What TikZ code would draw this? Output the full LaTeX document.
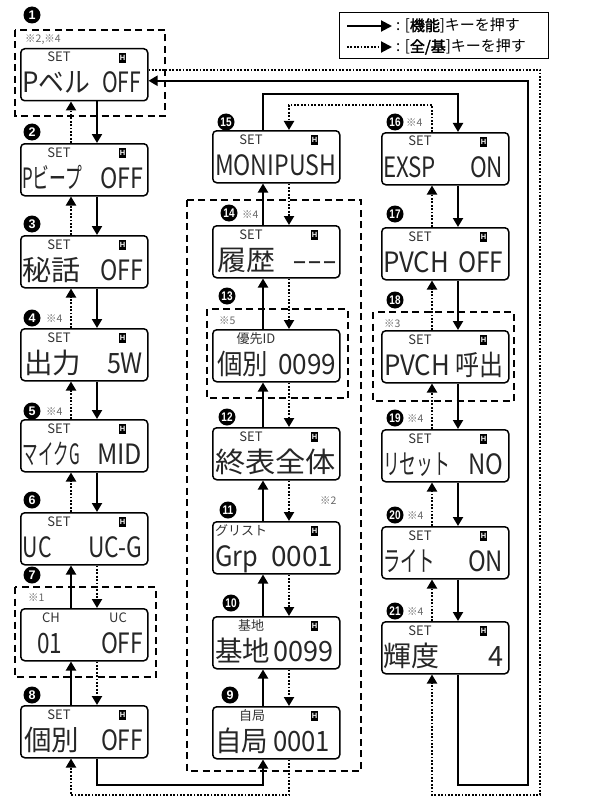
\documentclass[tikz,border=0pt]{standalone}
\usepackage{fontspec}
\usepackage{graphicx}
\setmainfont{Noto Sans CJK JP}
\newfontfamily\numfont{Liberation Sans}
\newfontfamily\jpbold{Noto Sans CJK JP}[FakeBold=2]
\usetikzlibrary{arrows.meta}

\newcommand\mfont{\fontsize{28}{30}\selectfont}
\newcommand\lcdbx[3]{\node[lcd] (#1) at (#2,#3) {};}
\newcommand\hmk[1]{\node[hb] at ([xshift=102.5pt,yshift=-10pt]#1.north west) {H};}
\newcommand\setH[1]{\node[toplab] at ([xshift=39pt,yshift=-14pt]#1.north west) {SET};\hmk{#1}}
\newcommand\toplbl[3]{\node[toplab] at ([xshift=#2pt,yshift=-14pt]#1.north west) {#3};}
\newcommand\maintxt[4]{\node[mtext] at ([xshift=#2pt,yshift=-45pt]#1.north west) {\resizebox{#3pt}{\height}{#4}};}

\tikzset{
 lcd/.style={draw, line width=1.5pt, rounded corners=4pt, minimum width=127pt, minimum height=52pt, anchor=north west, inner sep=0pt},
 soll/.style={line width=2pt, -{Triangle[width=10pt,length=9pt]}},
 dotl/.style={line width=2pt, dash pattern=on 1.8pt off 1.6pt, -{Triangle[width=10pt,length=9pt]}},
 dbox/.style={line width=2pt, dash pattern=on 7pt off 4.5pt},
 numc/.style={circle, fill=black, text=white, minimum size=17pt, inner sep=0pt, font=\numfont\bfseries\fontsize{12.5}{12.5}\selectfont},
 note/.style={anchor=base west, inner sep=0pt, text=black!60, font=\fontsize{10.5}{10.5}\selectfont},
 toplab/.style={anchor=base, inner sep=0pt, text=black!80, font=\fontsize{13}{13}\selectfont},
 hb/.style={fill=black, minimum width=7.5pt, minimum height=9.5pt, inner sep=0pt, text=white, font=\numfont\bfseries\fontsize{7.5}{7.5}\selectfont},
 mtext/.style={anchor=base west, inner sep=0pt, outer sep=0pt, text=black!85, font=\mfont},
}

\begin{document}
\begin{tikzpicture}[x=1pt,y=-1pt]
\useasboundingbox (0,0) rectangle (595,797);

% ---------- dashed groups
\draw[dbox] (15,30) rectangle (165,116);
\draw[dbox] (15,587) rectangle (156,677);
\draw[dbox] (207,309) rectangle (348,398);
\draw[dbox] (373,312) rectangle (514,401);
\draw[dbox] (187,200) rectangle (361,771);

% ---------- left column
\lcdbx{b1}{20}{48}  \setH{b1} \maintxt{b1}{2}{68}{Pベル} \maintxt{b1}{82}{39}{OFF}
\lcdbx{b2}{20}{143} \setH{b2} \maintxt{b2}{2}{60}{Pビープ} \maintxt{b2}{80}{43}{OFF}
\lcdbx{b3}{20}{235} \setH{b3} \maintxt{b3}{3}{58}{秘話} \maintxt{b3}{80}{43}{OFF}
\lcdbx{b4}{20}{328} \setH{b4} \maintxt{b4}{4}{57}{出力} \maintxt{b4}{87}{36}{5W}
\lcdbx{b5}{20}{419} \setH{b5} \maintxt{b5}{3}{57}{マイクG} \maintxt{b5}{77}{45}{MID}
\lcdbx{b6}{20}{512} \setH{b6} \maintxt{b6}{3}{29}{UC} \maintxt{b6}{68}{54}{UC-G}
\lcdbx{b7}{20}{608} \toplbl{b7}{31}{CH} \toplbl{b7}{98}{UC} \maintxt{b7}{17}{25}{01} \maintxt{b7}{81}{42}{OFF}
\lcdbx{b8}{20}{705} \setH{b8} \maintxt{b8}{4}{55}{個別} \maintxt{b8}{81}{42}{OFF}

% ---------- middle column
\lcdbx{b9}{212}{706}  \toplbl{b9}{40}{自局} \hmk{b9} \maintxt{b9}{3}{53}{自局} \maintxt{b9}{61}{57}{0001}
\lcdbx{b10}{212}{616} \toplbl{b10}{39}{基地} \hmk{b10} \maintxt{b10}{3}{55}{基地} \maintxt{b10}{61}{60}{0099}
\lcdbx{b11}{212}{521} \toplbl{b11}{29}{グリスト} \hmk{b11} \maintxt{b11}{3}{43}{Grp} \maintxt{b11}{59}{62}{0001}
\lcdbx{b12}{212}{427} \setH{b12} \maintxt{b12}{3}{121}{終表全体}
\lcdbx{b13}{212}{329} \toplbl{b13}{44}{優先ID} \maintxt{b13}{5}{51}{個別} \maintxt{b13}{66}{58}{0099}
\lcdbx{b14}{212}{225} \setH{b14} \maintxt{b14}{5}{58}{履歴} \maintxt{b14}{80}{45}{{-}{-}{-}}
\lcdbx{b15}{212}{130} \setH{b15} \maintxt{b15}{3}{121}{MONIPUSH}

% ---------- right column
\lcdbx{b16}{381}{132} \setH{b16} \maintxt{b16}{2}{53}{EXSP} \maintxt{b16}{89}{33}{ON}
\lcdbx{b17}{381}{227} \setH{b17} \maintxt{b17}{2}{66}{PVCH} \maintxt{b17}{77}{45}{OFF}
\lcdbx{b18}{381}{330} \setH{b18} \maintxt{b18}{3}{66}{PVCH} \maintxt{b18}{74}{48}{呼出}
\lcdbx{b19}{381}{429} \setH{b19} \maintxt{b19}{2}{67}{リセット} \maintxt{b19}{87}{35}{NO}
\lcdbx{b20}{381}{526} \setH{b20} \maintxt{b20}{2}{52}{ライト} \maintxt{b20}{87}{35}{ON}
\lcdbx{b21}{381}{621} \setH{b21} \maintxt{b21}{2}{56}{輝度} \maintxt{b21}{107}{15}{4}

% ---------- numbers
\node[numc] (n1) at (32,15) {1};
\node[numc] (n2) at (32,132) {2};
\node[numc] (n3) at (32,224) {3};
\node[numc] (n4) at (32,318) {4};
\node[numc] (n5) at (32,411) {5};
\node[numc] (n6) at (32,500) {6};
\node[numc] (n7) at (32,575) {7};
\node[numc] (n8) at (32,695) {8};
\node[numc] (n9) at (230,695) {9};
\node[numc] (n10) at (231,603) {\scalebox{0.8}[1]{10}};
\node[numc] (n11) at (228,510) {\scalebox{0.8}[1]{11}};
\node[numc] (n12) at (227,417) {\scalebox{0.8}[1]{12}};
\node[numc] (n13) at (227,296) {\scalebox{0.8}[1]{13}};
\node[numc] (n14) at (229,213) {\scalebox{0.8}[1]{14}};
\node[numc] (n15) at (226,122) {\scalebox{0.8}[1]{15}};
\node[numc] (n16) at (395,122) {\scalebox{0.8}[1]{16}};
\node[numc] (n17) at (395,214) {\scalebox{0.8}[1]{17}};
\node[numc] (n18) at (395,300) {\scalebox{0.8}[1]{18}};
\node[numc] (n19) at (395,418) {\scalebox{0.8}[1]{19}};
\node[numc] (n20) at (395,515) {\scalebox{0.8}[1]{20}};
\node[numc] (n21) at (395,611) {\scalebox{0.8}[1]{21}};

% ---------- notes
\node[note] (s4a) at (46,322) {※4};
\node[note] (s4b) at (46,415) {※4};
\node[note] (s4c) at (242,218) {※4};
\node[note] (s4d) at (406,126) {※4};
\node[note] (s4e) at (407,422) {※4};
\node[note] (s4f) at (407,519) {※4};
\node[note] (s4g) at (407,615) {※4};
\node[note] (s24) at (25,43) {※2,※4};
\node[note] (s1) at (28,601) {※1};
\node[note] (s5) at (219,324) {※5};
\node[note] (s3) at (384,327) {※3};
\node[note] (s2) at (320,504) {※2};

% ---------- inner connectors
\foreach \a/\b in {b1/b2,b2/b3,b3/b4,b4/b5,b5/b6}{
  \draw[soll] ([xshift=77pt]\a.south west) -- ([xshift=77pt]\b.north west);
  \draw[dotl] ([xshift=51pt]\b.north west) -- ([xshift=51pt]\a.south west);
}
\foreach \a/\b in {b6/b7,b7/b8}{
  \draw[soll] ([xshift=51pt]\b.north west) -- ([xshift=51pt]\a.south west);
  \draw[dotl] ([xshift=77pt]\a.south west) -- ([xshift=77pt]\b.north west);
}
\foreach \a/\b in {b9/b10,b10/b11,b11/b12,b12/b13,b13/b14,b14/b15}{
  \draw[soll] ([xshift=51pt]\a.north west) -- ([xshift=51pt]\b.south west);
  \draw[dotl] ([xshift=77pt]\b.south west) -- ([xshift=77pt]\a.north west);
}
\foreach \a/\b in {b16/b17,b17/b18,b18/b19,b19/b20,b20/b21}{
  \draw[soll] ([xshift=77pt]\a.south west) -- ([xshift=77pt]\b.north west);
  \draw[dotl] ([xshift=51pt]\b.north west) -- ([xshift=51pt]\a.south west);
}

% ---------- outer connectors
\coordinate (sR) at (528,785);
\coordinate (dR) at (540,795);
\draw[soll] ([xshift=51pt]b15.north west) -- ([xshift=51pt,yshift=36pt]b15.north west) -| ([xshift=77pt]b16.north west);
\draw[dotl] ([xshift=51pt]b16.north west) -- ([xshift=51pt,yshift=27pt]b16.north west) -| ([xshift=77pt]b15.north west);
\draw[soll] ([xshift=77pt]b21.south west) |- (sR) |- ([yshift=-6pt]b1.east);
\draw[dotl] ([yshift=5pt]b1.east) -| (dR) -| ([xshift=51pt]b21.south west);
\draw[soll] ([xshift=77pt]b8.south west) coordinate (t8) -- (t8 |- sR) -| ([xshift=51pt]b9.south west);
\draw[dotl] ([xshift=77pt]b9.south west) coordinate (t9) -- (t9 |- dR) -| ([xshift=51pt]b8.south west);

% ---------- legend
\node[draw, line width=1.2pt, minimum width=209pt, minimum height=46pt, anchor=north west, inner sep=0pt] (leg) at (339,12) {};
\draw[line width=2pt, -{Triangle[width=11pt,length=11pt]}] ([xshift=8pt,yshift=-14pt]leg.north west) -- ([xshift=53pt,yshift=-14pt]leg.north west);
\draw[line width=2pt, dash pattern=on 1.8pt off 1.6pt, -{Triangle[width=11pt,length=11pt]}] ([xshift=8pt,yshift=-35pt]leg.north west) -- ([xshift=53pt,yshift=-35pt]leg.north west);
\node[anchor=base west, inner sep=0pt, font=\fontsize{15}{15}\selectfont] (l1) at ([xshift=57pt,yshift=-19pt]leg.north west) {: [{\jpbold 機能}]キーを押す};
\node[anchor=base west, inner sep=0pt, font=\fontsize{15}{15}\selectfont] (l2) at ([xshift=57pt,yshift=-40pt]leg.north west) {: [{\jpbold 全/基}]キーを押す};
\end{tikzpicture}
\end{document}
